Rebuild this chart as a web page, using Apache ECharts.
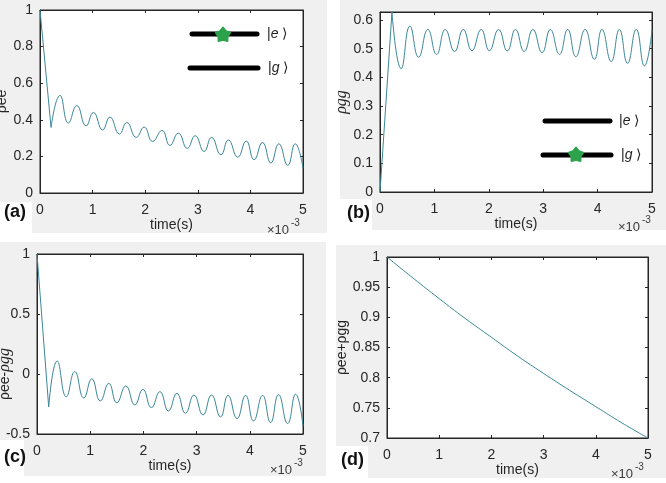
<!DOCTYPE html>
<html>
<head>
<meta charset="utf-8">
<script src="https://cdn.jsdelivr.net/npm/echarts@6/dist/echarts.min.js"></script>
<style>
html, body { margin: 0; padding: 0; background: #fff; }
#main { width: 666px; height: 483px; }
</style>
</head>
<body>
<div id="main"></div>
<script>
// time in units of 1e-3 s (the axes carry the x10^-3 note)
var tA = [0, 0.21, 0.38, 0.54, 0.70, 0.876, 1.015, 1.19, 1.33, 1.51, 1.65, 1.83, 1.98, 2.14, 2.32, 2.47, 2.63, 2.80, 2.95, 3.12, 3.26, 3.44, 3.58, 3.76, 3.92, 4.07, 4.23, 4.39, 4.54, 4.71, 4.85, 5.0];
var peeA = [1, 0.358, 0.533, 0.382, 0.478, 0.367, 0.44, 0.345, 0.415, 0.322, 0.385, 0.304, 0.36, 0.282, 0.342, 0.26, 0.327, 0.244, 0.313, 0.227, 0.304, 0.209, 0.29, 0.196, 0.284, 0.182, 0.276, 0.164, 0.269, 0.151, 0.269, 0.136];

var tB = [0, 0.22, 0.39, 0.55, 0.71, 0.88, 1.04, 1.20, 1.37, 1.53, 1.69, 1.86, 2.01, 2.18, 2.34, 2.49, 2.65, 2.81, 2.98, 3.13, 3.30, 3.45, 3.60, 3.77, 3.94, 4.08, 4.25, 4.40, 4.55, 4.71, 4.86, 5.0];
var pggB = [0, 0.628, 0.43, 0.579, 0.47, 0.567, 0.48, 0.567, 0.49, 0.567, 0.493, 0.567, 0.493, 0.567, 0.492, 0.567, 0.49, 0.567, 0.486, 0.567, 0.48, 0.567, 0.472, 0.567, 0.463, 0.567, 0.455, 0.567, 0.449, 0.567, 0.44, 0.565];

var tC = [0, 0.22, 0.38, 0.55, 0.71, 0.88, 1.03, 1.19, 1.35, 1.50, 1.67, 1.84, 1.99, 2.15, 2.31, 2.47, 2.63, 2.79, 2.95, 3.12, 3.28, 3.45, 3.59, 3.76, 3.92, 4.07, 4.24, 4.39, 4.54, 4.71, 4.86, 5.0];
var diffC = [1, -0.275, 0.108, -0.19, 0.02, -0.2, -0.04, -0.225, -0.078, -0.24, -0.1, -0.258, -0.128, -0.28, -0.147, -0.308, -0.161, -0.327, -0.175, -0.341, -0.175, -0.358, -0.178, -0.372, -0.178, -0.391, -0.178, -0.405, -0.172, -0.413, -0.169, -0.433];

var tD = [0, 0.5, 1, 1.5, 2, 2.5, 3, 3.5, 4, 4.5, 5];
var sumD = [1, 0.965, 0.931, 0.898, 0.867, 0.836, 0.807, 0.779, 0.752, 0.725, 0.70];

var panelLetters = ['(a)', '(b)', '(c)', '(d)'];
var yNames = ['ρee', '{i|ρgg}', '', 'ρee+ρgg'];
var yNameC = 'ρee-{i|ρgg}';

var lineColor = '#3b8797';
var axisColor = '#262626';
var font = 'Liberation Sans';
var gray = '#f0f0f0';
var italicRich = {i: {fontFamily: 'Liberation Serif', fontStyle: 'italic', fontSize: 16, color: axisColor, fill: axisColor}};

function pairs(t, v, from, to) {
    var out = [];
    for (var i = from; i < to; i++) {
        out.push([t[i], v[i]]);
    }
    return out;
}

var grids = [
    {left: 40, top: 10, width: 263, height: 183},
    {left: 380, top: 12, width: 272, height: 180},
    {left: 37, top: 254, width: 266, height: 180},
    {left: 387, top: 257, width: 261, height: 181}
];
grids.forEach(function (g) {
    g.show = true;
    g.containLabel = false;
    g.outerBoundsMode = 'none';
    g.backgroundColor = '#fff';
    g.borderColor = axisColor;
    g.borderWidth = 1;
});

var xGaps = [23, 21, 23, 24];
var yRanges = [[0, 1, 0.2], [0, 0.628, 0.1], [-0.5, 1, 0.5], [0.7, 1, 0.05]];
var yGaps = [31, 29, 27, 33];

var xAxes = [], yAxes = [];
for (var g = 0; g < 4; g++) {
    xAxes.push({
        type: 'value', gridIndex: g, position: 'bottom', min: 0, max: 5, interval: 1,
        name: 'time(s)', nameLocation: 'middle', nameGap: xGaps[g],
        nameTextStyle: {fontFamily: font, fontSize: 14, color: axisColor},
        axisLine: {onZero: false, lineStyle: {color: axisColor}},
        axisTick: {inside: true, length: 3, lineStyle: {color: axisColor}},
        axisLabel: {margin: 10, fontFamily: font, fontSize: 14, color: axisColor},
        splitLine: {show: false}
    });
    xAxes.push({
        type: 'value', gridIndex: g, position: 'top', min: 0, max: 5, interval: 1,
        axisLine: {onZero: false, lineStyle: {color: axisColor}},
        axisTick: {inside: true, length: 3, lineStyle: {color: axisColor}},
        axisLabel: {show: false},
        splitLine: {show: false}
    });
    var r = yRanges[g];
    yAxes.push({
        type: 'value', gridIndex: g, position: 'left', min: r[0], max: r[1], interval: r[2],
        name: yNames[g], nameLocation: 'middle', nameGap: yGaps[g],
        nameTextStyle: {fontFamily: font, fontSize: 14, color: axisColor, rich: italicRich},
        axisLine: {onZero: false, lineStyle: {color: axisColor}},
        axisTick: {inside: true, length: 3, lineStyle: {color: axisColor}},
        axisLabel: {margin: 7, fontFamily: font, fontSize: 14, color: axisColor, showMaxLabel: g !== 1},
        splitLine: {show: false}
    });
    yAxes.push({
        type: 'value', gridIndex: g, position: 'right', min: r[0], max: r[1], interval: r[2],
        axisLine: {onZero: false, lineStyle: {color: axisColor}},
        axisTick: {inside: true, length: 3, lineStyle: {color: axisColor}},
        axisLabel: {show: false},
        splitLine: {show: false}
    });
}

function lineSeries(g, data, smooth) {
    return {
        type: 'line', xAxisIndex: 2 * g, yAxisIndex: 2 * g,
        data: data, showSymbol: false, symbol: 'none',
        smooth: smooth,
        lineStyle: {color: lineColor, width: 1},
        animation: false
    };
}

var series = [
    lineSeries(0, pairs(tA, peeA, 0, 2), false),
    lineSeries(0, pairs(tA, peeA, 1, tA.length), 0.5),
    lineSeries(1, pairs(tB, pggB, 0, 2), false),
    lineSeries(1, pairs(tB, pggB, 1, tB.length), 0.5),
    lineSeries(2, pairs(tC, diffC, 0, 2), false),
    lineSeries(2, pairs(tC, diffC, 1, tC.length), 0.5),
    lineSeries(3, pairs(tD, sumD, 0, tD.length), true)
];

// figure decoration: gray panel backgrounds, panel letters, x10^-3 notes, level sketches
var graphics = [];
var panels = [
    {rect: [0, 0, 327, 233], notch: [0, 202, 32, 31], letter: [4, 212], exp: [267, 230]},
    {rect: [340, 0, 326, 230], notch: [340, 199, 32, 31], letter: [347, 213], exp: [618, 227]},
    {rect: [0, 242, 326, 234], notch: [0, 440, 24, 36], letter: [4, 457], exp: [270, 470]},
    {rect: [336, 245, 330, 233], notch: [336, 446, 32, 32], letter: [341, 460], exp: [611, 474]}
];
panels.forEach(function (p, i) {
    graphics.push({type: 'rect', z: -100, shape: {x: p.rect[0], y: p.rect[1], width: p.rect[2], height: p.rect[3]}, style: {fill: gray}});
    graphics.push({type: 'rect', z: -99, shape: {x: p.notch[0], y: p.notch[1], width: p.notch[2], height: p.notch[3]}, style: {fill: '#fff'}});
    graphics.push({type: 'text', z: 100, x: p.letter[0], y: p.letter[1],
        style: {text: panelLetters[i], font: 'bold 18px "Liberation Sans"', fill: '#111', verticalAlign: 'middle'}});
    graphics.push({type: 'text', z: 100, x: p.exp[0], y: p.exp[1],
        style: {text: '×10', font: '13px "Liberation Sans"', fill: '#3a3a3a', verticalAlign: 'middle'}});
    graphics.push({type: 'text', z: 100, x: p.exp[0] + 24, y: p.exp[1] - 7,
        style: {text: '-3', font: '10px "Liberation Sans"', fill: '#3a3a3a', verticalAlign: 'middle'}});
});

// panel (c) y label sits below the axis centre in the original figure
graphics.push({type: 'text', z: 100, x: 5, y: 374, rotation: Math.PI / 2,
    style: {text: yNameC, font: '14px "Liberation Sans"', fill: axisColor, align: 'center', verticalAlign: 'middle', rich: italicRich}});

function star(cx, cy) {
    var pts = [];
    for (var k = 0; k < 10; k++) {
        var a = -Math.PI / 2 + k * Math.PI / 5;
        var rr = k % 2 === 0 ? 7.5 : 4.8;
        pts.push([cx + rr * Math.cos(a), cy + rr * Math.sin(a)]);
    }
    return {type: 'polygon', z: 110, shape: {points: pts},
        style: {fill: '#2ca24b', stroke: '#2ca24b', lineWidth: 2, lineJoin: 'round'}};
}
function level(x1, x2, y) {
    return {type: 'line', z: 105, shape: {x1: x1, y1: y, x2: x2, y2: y},
        style: {stroke: '#000', lineWidth: 5, lineCap: 'round'}};
}
function ket(x, y, s) {
    return {type: 'text', z: 105, x: x, y: y,
        style: {text: '|{i|' + s + '} ⟩', font: '14px "Liberation Sans"', fill: '#222', verticalAlign: 'middle',
            rich: {i: {fontStyle: 'italic', fontSize: 14, fontFamily: 'Liberation Sans', fill: '#222'}}}};
}
graphics.push(level(192, 257, 34), level(190, 258, 68), star(223, 35), ket(267, 34, 'e'), ket(268, 68, 'g'));
graphics.push(level(545, 610, 121), level(543, 611, 155), star(576, 155), ket(619, 121, 'e'), ket(621, 155, 'g'));

var chart = echarts.init(document.getElementById('main'));
chart.setOption({
    animation: false,
    backgroundColor: '#fff',
    grid: grids,
    xAxis: xAxes,
    yAxis: yAxes,
    series: series,
    graphic: graphics
});
</script>
</body>
</html>
